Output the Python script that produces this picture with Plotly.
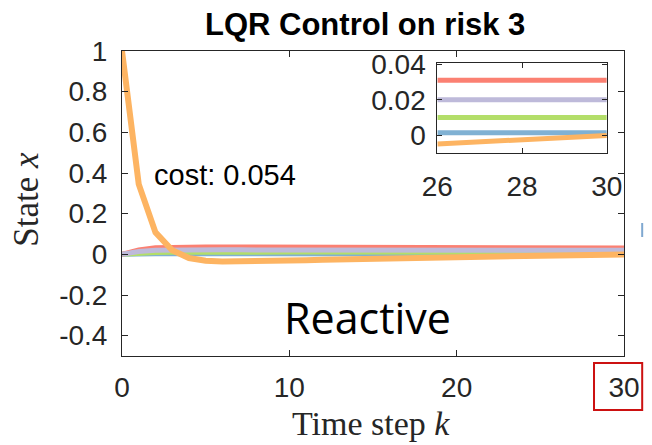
import plotly.graph_objects as go

# Time steps and state trajectories under LQR control
steps = list(range(31))

state_orange = [1.0, 0.345, 0.108, 0.02, -0.018, -0.031, -0.035, -0.035, -0.034, -0.032,
                -0.030, -0.029, -0.027, -0.025, -0.024, -0.022, -0.021, -0.019, -0.018, -0.016,
                -0.015, -0.013, -0.012, -0.010, -0.008, -0.007, -0.005, -0.004, -0.003, -0.0015,
                -0.0003]
state_red = [0.0, 0.022, 0.032, 0.035, 0.036, 0.036, 0.036, 0.036, 0.036, 0.036,
             0.036, 0.035, 0.035, 0.035, 0.035, 0.034, 0.034, 0.034, 0.034, 0.033,
             0.033, 0.033, 0.033, 0.032, 0.032, 0.032, 0.031, 0.031, 0.031, 0.031,
             0.031]
state_purple = [0.0, 0.014, 0.020, 0.022, 0.022, 0.022, 0.022, 0.022, 0.022, 0.022,
                0.021, 0.021, 0.021, 0.021, 0.021, 0.021, 0.021, 0.021, 0.021, 0.021,
                0.020, 0.020, 0.020, 0.020, 0.020, 0.020, 0.020, 0.020, 0.020, 0.020,
                0.020]
state_green = [0.0, 0.006, 0.009, 0.010, 0.011, 0.011, 0.011, 0.011, 0.011, 0.011,
               0.011, 0.011, 0.011, 0.011, 0.011, 0.011, 0.010, 0.010, 0.010, 0.010,
               0.010, 0.010, 0.010, 0.010, 0.010, 0.010, 0.010, 0.010, 0.010, 0.010,
               0.010]
state_blue = [0.0, 0.003, 0.004, 0.004, 0.003, 0.003, 0.003, 0.003, 0.002, 0.002,
              0.002, 0.002, 0.002, 0.002, 0.002, 0.002, 0.002, 0.002, 0.002, 0.002,
              0.0015, 0.0015, 0.0015, 0.0015, 0.0015, 0.0013, 0.0013, 0.0013, 0.0013, 0.0013,
              0.0013]

main_xticks = [0, 10, 20, 30]
main_yticks = [-0.4, -0.2, 0, 0.2, 0.4, 0.6, 0.8, 1]
main_ytext = ["-0.4", "-0.2", "0", "0.2", "0.4", "0.6", "0.8", "1"]
inset_xticks = [26, 28, 30]
inset_yticks = [0, 0.02, 0.04]
inset_ytext = ["0", "0.02", "0.04"]
zoom_start = 26

title_text = "LQR Control on risk 3"
cost_text = "cost: 0.054"
mode_text = "Reactive"

series = [
    (state_blue, "#80B1D3", 5),
    (state_green, "#B3DE69", 5),
    (state_red, "#FB8072", 5),
    (state_purple, "#BEBADA", 5),
    (state_orange, "#FDB462", 6),
]

W, H = 652, 445
L, R, T, B = 122, 632.5, 51, 356


def px(x):
    return (x - L) / (R - L)


def py(y):
    return (B - y) / (B - T)


fig = go.Figure()

for vals, color, width in series:
    fig.add_trace(go.Scatter(x=steps, y=vals, mode="lines",
                             line=dict(color=color, width=width),
                             xaxis="x", yaxis="y", showlegend=False,
                             hoverinfo="skip"))

k0 = steps.index(zoom_start)
for vals, color, width in series:
    fig.add_trace(go.Scatter(x=steps[k0:], y=vals[k0:], mode="lines",
                             line=dict(color=color, width=5),
                             xaxis="x2", yaxis="y2", showlegend=False,
                             hoverinfo="skip"))

axis_color = "#262626"
tick_font = dict(family="Liberation Sans, Arial, sans-serif", size=28, color="#262626")

fig.update_layout(
    width=W, height=H,
    margin=dict(l=L, r=W - R, t=T, b=H - B, pad=0),
    paper_bgcolor="white", plot_bgcolor="white",
    xaxis=dict(range=[0, 30], tickvals=main_xticks, ticks="inside", ticklen=6,
               tickcolor=axis_color, showline=True, linecolor=axis_color, linewidth=1,
               mirror="ticks", showgrid=False, zeroline=False, tickfont=tick_font,
               ticklabelstandoff=6),
    yaxis=dict(range=[-0.5, 1], tickvals=main_yticks, ticktext=main_ytext,
               ticks="inside", ticklen=6, tickcolor=axis_color, showline=True,
               linecolor=axis_color, linewidth=1, mirror="ticks", showgrid=False,
               zeroline=False, tickfont=tick_font, ticklabelstandoff=8),
    xaxis2=dict(domain=[px(442.7), px(615)], anchor="y2", range=[26, 30],
                tickvals=inset_xticks, ticks="inside", ticklen=5, tickcolor=axis_color,
                showline=True, linecolor=axis_color, linewidth=1, mirror="ticks",
                showgrid=False, zeroline=False, tickfont=tick_font, ticklabelstandoff=9),
    yaxis2=dict(domain=[py(152.7), py(62.7)], anchor="x2", range=[-0.01, 0.041],
                tickvals=inset_yticks, ticktext=inset_ytext, ticks="inside", ticklen=5,
                tickcolor=axis_color, showline=True, linecolor=axis_color, linewidth=1,
                mirror="ticks", showgrid=False, zeroline=False, tickfont=tick_font,
                ticklabelstandoff=5),
)

fig.add_annotation(text="<b>" + title_text + "</b>", xref="paper", yref="paper",
                   x=px(369), y=py(25), xanchor="center", yanchor="middle",
                   showarrow=False,
                   font=dict(family="Liberation Sans, Arial, sans-serif", size=31, color="black"))
fig.add_annotation(text=cost_text, xref="paper", yref="paper",
                   x=px(227), y=py(175), xanchor="center", yanchor="middle",
                   showarrow=False,
                   font=dict(family="Liberation Sans, Arial, sans-serif", size=29, color="black"))
fig.add_annotation(text=mode_text, xref="paper", yref="paper",
                   x=px(372), y=py(317), xanchor="center", yanchor="middle",
                   showarrow=False,
                   font=dict(family="Open Sans, sans-serif", size=43, color="black"))
fig.add_annotation(text="Time step <i>k</i>", xref="paper", yref="paper",
                   x=px(375), y=py(424), xanchor="center", yanchor="middle",
                   showarrow=False,
                   font=dict(family="Liberation Serif, serif", size=34, color="#262626"))
fig.add_annotation(text="State <i>x</i>", xref="paper", yref="paper",
                   x=px(24), y=py(199), xanchor="center", yanchor="middle",
                   textangle=-90, showarrow=False,
                   font=dict(family="Liberation Serif, serif", size=35, color="#262626"))

# highlight box around the final time-step label
fig.add_shape(type="rect", xref="paper", yref="paper",
              x0=px(602), x1=px(651), y0=py(410), y1=py(363),
              line=dict(color="#CC1111", width=2), fillcolor="rgba(0,0,0,0)")
# small legend marker clipped at the right edge
fig.add_shape(type="line", xref="paper", yref="paper",
              x0=px(651), x1=px(651), y0=py(237), y1=py(223),
              line=dict(color="#7FA8D0", width=2))

fig.write_html("out.html")
